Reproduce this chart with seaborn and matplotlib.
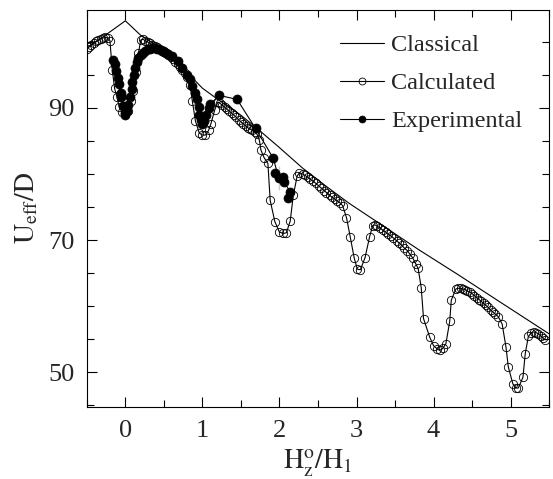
import matplotlib
matplotlib.use("Agg")
import matplotlib.pyplot as plt
import seaborn as sns
import pandas as pd
import numpy as np
from matplotlib.ticker import MultipleLocator, FixedLocator

# ---------------- data ----------------
classical_x = [-0.5, 0.0, 0.2, 0.4, 0.6, 0.75, 0.9, 1.0, 1.2, 1.5, 1.7, 2.0, 2.3, 2.6,
               2.9, 3.3, 3.8, 4.3, 4.8, 5.5]
classical_y = [99.0, 103.2, 101.0, 99.5, 98.0, 96.2, 94.2, 93.0, 91.3, 88.9, 87.0, 84.0,
               80.9, 78.2, 75.6, 72.5, 68.6, 64.9, 61.1, 55.8]

calc_x = [-0.50, -0.47, -0.44, -0.41, -0.38, -0.35, -0.32, -0.29, -0.26, -0.23, -0.20,
          -0.17, -0.14, -0.11, -0.08, -0.04, 0.00, 0.04, 0.07, 0.10, 0.14, 0.17, 0.20,
          0.23, 0.26, 0.29, 0.32, 0.35, 0.38, 0.41, 0.44, 0.47, 0.50, 0.53, 0.56, 0.59,
          0.62, 0.65, 0.68, 0.71, 0.74, 0.77, 0.80, 0.84, 0.87, 0.91, 0.96, 1.00, 1.04,
          1.08, 1.11, 1.16, 1.20, 1.23, 1.26, 1.29, 1.32, 1.35, 1.38, 1.41, 1.44, 1.47,
          1.50, 1.53, 1.56, 1.59, 1.62, 1.65, 1.68, 1.71, 1.74, 1.76, 1.80, 1.85, 1.88,
          1.94, 2.00, 2.05, 2.09, 2.14, 2.18, 2.23, 2.26, 2.30, 2.33, 2.37, 2.40, 2.44,
          2.47, 2.51, 2.54, 2.58, 2.61, 2.65, 2.68, 2.72, 2.75, 2.79, 2.82, 2.87, 2.92,
          2.97, 3.01, 3.05, 3.11, 3.17, 3.21, 3.24, 3.27, 3.31, 3.34, 3.38, 3.41, 3.45,
          3.48, 3.52, 3.55, 3.59, 3.62, 3.66, 3.69, 3.73, 3.77, 3.80, 3.84, 3.87, 3.95,
          4.00, 4.05, 4.08, 4.12, 4.16, 4.21, 4.23, 4.29, 4.32, 4.35, 4.38, 4.41, 4.44,
          4.47, 4.50, 4.53, 4.56, 4.59, 4.62, 4.65, 4.68, 4.71, 4.74, 4.77, 4.80, 4.84,
          4.89, 4.94, 4.97, 5.03, 5.07, 5.10, 5.16, 5.19, 5.23, 5.27, 5.30, 5.33, 5.36,
          5.39, 5.42, 5.45]
calc_y = [99.0, 99.3, 99.6, 99.9, 100.1, 100.3, 100.5, 100.6, 100.7, 100.6, 100.2,
          95.8, 93.0, 91.7, 90.2, 89.4, 89.2, 89.6, 91.0, 92.5, 95.5, 98.3, 100.3,
          100.4, 100.2, 100.0, 99.8, 99.6, 99.4, 99.2, 99.0, 98.8, 98.6, 98.3, 98.0, 97.7,
          97.4, 97.0, 96.6, 96.2, 95.8, 95.3, 94.7, 93.5, 91.0, 88.0, 86.2, 85.9, 85.9,
          86.6, 87.6, 89.7, 90.9, 90.7, 90.4, 90.1, 89.8, 89.5, 89.2, 88.9, 88.6, 88.2,
          87.9, 87.6, 87.3, 87.0, 86.8, 86.6, 86.4, 86.0, 85.1, 83.6, 82.5, 81.6, 76.0,
          72.8, 71.2, 71.0, 71.1, 72.9, 76.8, 79.7, 80.2, 80.0, 79.8, 79.5, 79.2, 78.9,
          78.6, 78.2, 77.9, 77.5, 77.2, 76.8, 76.5, 76.2, 75.9, 75.6, 75.2, 73.4, 70.4,
          67.3, 65.6, 65.5, 67.3, 70.5, 72.2, 72.3, 72.1, 71.8, 71.5, 71.2, 70.9, 70.6,
          70.3, 69.9, 69.6, 69.2, 68.8, 68.4, 67.9, 67.3, 66.4, 65.7, 62.8, 58.1, 55.3,
          54.0, 53.5, 53.3, 53.6, 54.3, 57.7, 60.9, 62.6, 62.7, 62.7, 62.6, 62.5, 62.3,
          62.1, 61.9, 61.6, 61.3, 61.0, 60.7, 60.4, 60.1, 59.8, 59.4, 59.1, 58.8, 58.4,
          57.3, 53.8, 50.8, 48.2, 47.6, 47.6, 49.2, 52.8, 55.4, 56.0, 56.1, 56.0, 55.8,
          55.5, 55.2, 54.9]

exp_x = [-0.16, -0.14, -0.12, -0.10, -0.08, -0.06, -0.05, -0.03, -0.01, 0.00, 0.02,
         0.04, 0.06, 0.08, 0.09, 0.11, 0.13, 0.15, 0.17, 0.20, 0.23, 0.26, 0.29, 0.32,
         0.35, 0.38, 0.41, 0.44, 0.47, 0.50, 0.53, 0.56, 0.61, 0.68, 0.74, 0.80, 0.84,
         0.87, 0.90, 0.93, 0.95, 0.96, 0.98, 1.00, 1.02, 1.05, 1.08, 1.10, 1.22, 1.45,
         1.69, 1.92, 1.99, 1.94, 2.05, 2.06, 1.99, 2.14, 2.11]
exp_y = [97.2, 96.6, 95.6, 94.6, 93.6, 92.2, 91.7, 90.3, 89.3, 88.9, 89.6,
         90.4, 91.7, 92.8, 93.9, 95.0, 96.1, 96.9, 97.5, 98.0, 98.4, 98.7, 98.9, 99.0,
         99.1, 99.1, 99.0, 98.9, 98.7, 98.5, 98.3, 98.1, 97.9, 97.1, 96.1, 95.0, 94.4,
         93.3, 92.3, 91.3, 90.1, 89.0, 88.2, 87.6, 88.1, 89.0, 90.0, 90.6, 91.9, 91.3,
         86.9, 82.4, 81.2, 80.2, 79.5, 78.8, 77.6, 77.3, 76.3]

x_ticks = [0, 1, 2, 3, 4, 5]
y_ticks = [50, 70, 90]

# ---------------- style ----------------
sns.set_style("ticks")
plt.rcParams["font.family"] = ["Liberation Serif", "DejaVu Serif"]
plt.rcParams["mathtext.fontset"] = "stix"

fig = plt.figure(figsize=(5.53, 4.79), dpi=100)
ax = fig.add_axes([0.157, 0.150, 0.836, 0.830])

df_c = pd.DataFrame({"x": classical_x, "y": classical_y})
df_calc = pd.DataFrame({"x": calc_x, "y": calc_y})
df_exp = pd.DataFrame({"x": exp_x, "y": exp_y})

sns.lineplot(data=df_c, x="x", y="y", ax=ax, color="black", lw=0.8,
             sort=False, label="Classical")
sns.lineplot(data=df_calc, x="x", y="y", ax=ax, color="black", lw=0.8,
             sort=False, marker="o", markersize=6, markerfacecolor="none",
             markeredgecolor="black", markeredgewidth=0.6, label="Calculated")
sns.lineplot(data=df_exp, x="x", y="y", ax=ax, color="black", lw=0.8,
             sort=False, marker="o", markersize=6.5, markerfacecolor="black",
             markeredgecolor="black", markeredgewidth=0.5, label="Experimental")

ax.set_xlim(-0.5, 5.5)
ax.set_ylim(44.7, 104.9)
ax.xaxis.set_major_locator(FixedLocator(x_ticks))
ax.xaxis.set_minor_locator(MultipleLocator(0.5))
ax.yaxis.set_major_locator(FixedLocator(y_ticks))
ax.yaxis.set_minor_locator(MultipleLocator(5))
ax.tick_params(which="both", direction="in", top=True, right=True, width=0.8,
               labelsize=19, color="black")
ax.tick_params(which="major", length=7, pad=9)
ax.tick_params(which="minor", length=5)
for s in ax.spines.values():
    s.set_linewidth(0.8)
    s.set_color("black")

ax.set_xlabel(r"$\mathrm{H_z^o/H_1}$", fontsize=20, labelpad=4)
ax.set_ylabel(r"$\mathrm{U_{eff}/D}$", fontsize=20, labelpad=6)

leg = ax.legend(loc="upper left", bbox_to_anchor=(0.548, 0.938), frameon=False,
                fontsize=17.5, handlelength=1.8, handletextpad=0.3, labelspacing=0.66,
                borderpad=0, borderaxespad=0)
for h in leg.legend_handles:
    h.set_markersize(5)

fig.savefig("out.png", dpi=100)
